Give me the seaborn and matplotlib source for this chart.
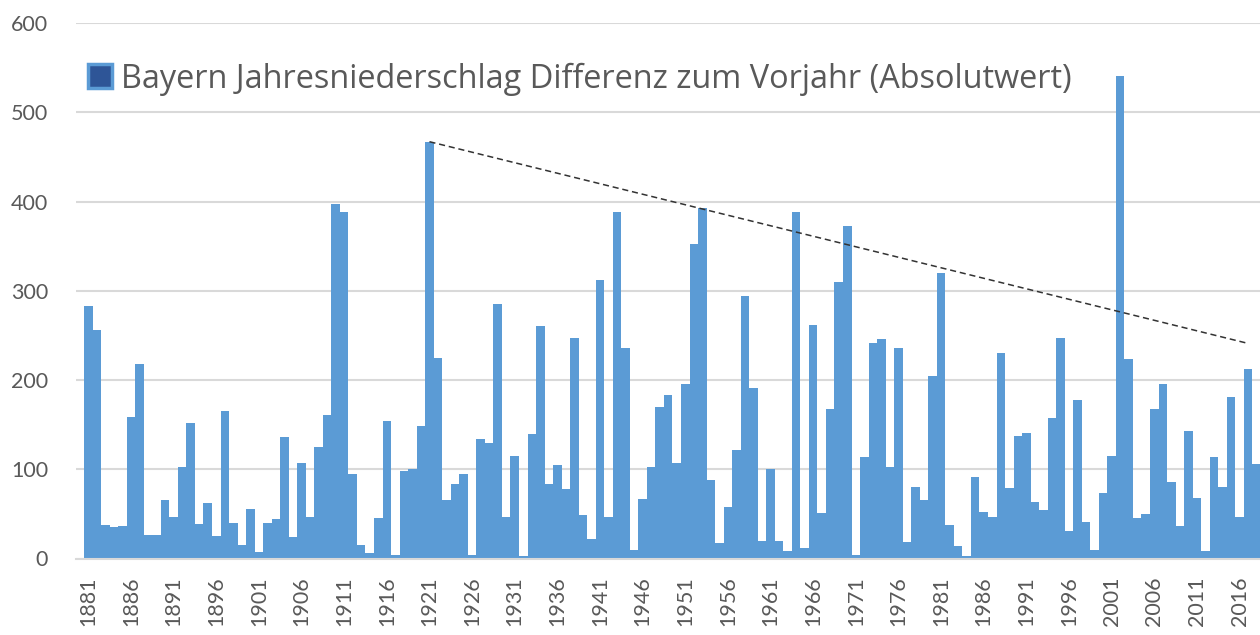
import matplotlib
matplotlib.use("Agg")
import matplotlib.pyplot as plt
from matplotlib.patches import Patch
import seaborn as sns
import numpy as np
import pandas as pd

# --- DATA ---
years = list(range(1881, 2019))
diff_abs = [
    283, 256, 37, 35, 36, 158, 218, 26, 26, 66,       # 1881-1890
    47, 103, 152, 39, 62, 25, 165, 40, 15, 56,        # 1891-1900
    7, 40, 44, 136, 24, 107, 47, 125, 161, 397,       # 1901-1910
    388, 95, 15, 6, 45, 154, 4, 98, 100, 148,         # 1911-1920
    467, 225, 66, 84, 95, 4, 134, 129, 285, 46,       # 1921-1930
    115, 3, 140, 260, 84, 105, 78, 247, 49, 22,       # 1931-1940
    312, 46, 388, 236, 10, 67, 103, 170, 183, 107,    # 1941-1950
    195, 352, 393, 88, 17, 58, 122, 294, 191, 20,     # 1951-1960
    100, 20, 8, 388, 12, 262, 51, 167, 310, 372,      # 1961-1970
    4, 114, 242, 246, 102, 236, 19, 80, 66, 204,      # 1971-1980
    320, 37, 14, 3, 91, 52, 46, 230, 79, 137,         # 1981-1990
    141, 63, 54, 157, 247, 31, 178, 41, 9, 73,        # 1991-2000
    115, 541, 224, 45, 50, 168, 195, 86, 36, 143,     # 2001-2010
    68, 8, 114, 80, 181, 47, 212, 106,                # 2011-2018
]
trend_years = [1921, 2017]
trend_values = [467, 241]
tick_years = list(range(1881, 2019, 5))
y_ticks = [0, 100, 200, 300, 400, 500, 600]
legend_label = "Bayern Jahresniederschlag Differenz zum Vorjahr (Absolutwert)"

# --- STYLE ---
BAR = "#5B9BD5"
TXT = "#595959"
GRID = "#D9D9D9"

sns.set_theme(style="white")
plt.rcParams["font.family"] = ["Lato", "DejaVu Sans"]

df = pd.DataFrame({"year": years, "value": diff_abs})

fig = plt.figure(figsize=(12.6, 6.35), dpi=100)
ax = fig.add_axes([76 / 1260, 76.5 / 635, 1 - 76 / 1260, (612 - 76.5) / 635])

sns.barplot(data=df, x="year", y="value", color=BAR, width=1.0,
            saturation=1, linewidth=0, ax=ax, zorder=2)

# trend line (positions on categorical axis)
tx = [years.index(y) for y in trend_years]
ax.plot(tx, trend_values, color="#333333", lw=1.1, ls=(0, (4, 2.5)), zorder=3)

ax.set_ylim(0, 600)
ax.set_yticks(y_ticks)
ax.set_xlim(-1.45, 137.4)
ax.set_xticks([years.index(y) for y in tick_years])
ax.set_xticklabels([str(y) for y in tick_years], rotation=90)
ax.yaxis.grid(True, color=GRID, lw=1.5, zorder=0)
ax.set_axisbelow(True)
ax.tick_params(axis="both", length=0, labelsize=15.5, labelcolor=TXT)
ax.tick_params(axis="y", pad=20)
ax.tick_params(axis="x", pad=13)
ax.set_xlabel("")
ax.set_ylabel("")
for s in ["top", "right", "left"]:
    ax.spines[s].set_visible(False)
ax.spines["bottom"].set_color(GRID)
ax.spines["bottom"].set_linewidth(1.5)

handle = Patch(facecolor="#2E5597", edgecolor=BAR, linewidth=2.5)
fig.legend([handle], [legend_label], loc="center left",
           bbox_to_anchor=(88 / 1260, 1 - 79 / 635), frameon=False,
           prop={"family": ["Open Sans", "DejaVu Sans"], "size": 23.4},
           labelcolor=TXT, borderpad=0, borderaxespad=0,
           handlelength=0.75, handleheight=0.75, handletextpad=0.28)

fig.savefig("out.png", dpi=100, facecolor="white")
